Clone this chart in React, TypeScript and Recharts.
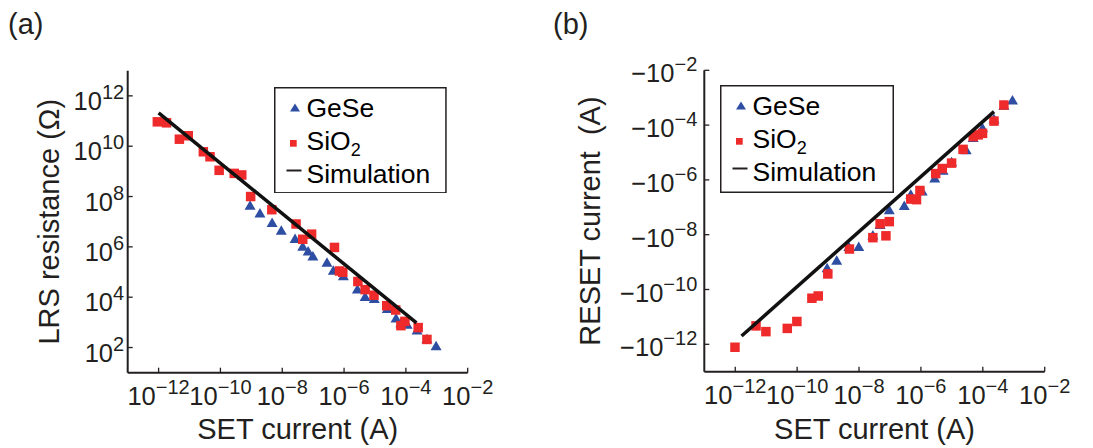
import React from 'react';
import { ScatterChart, Scatter, XAxis, YAxis, Legend } from 'recharts';

const FONT = '"Liberation Sans", Arial, Helvetica, sans-serif';
const INK = '#231f20';
const RED = '#ee2a2b';
const BLUE = '#2e4ea3';

// ---- shared tick values ----
const setCurrentTicks = [1e-12, 1e-10, 1e-8, 1e-6, 1e-4, 1e-2];
const lrsTicks = [1e2, 1e4, 1e6, 1e8, 1e10, 1e12];
const resetTicks = [1e-12, 1e-10, 1e-8, 1e-6, 1e-4, 1e-2];
const setDomain = [1e-13, 1e-2];
const lrsDomain = [1e1, 1e13];
const resetDomain = [1e-13, 1e-2];

const seriesNames = ['GeSe', 'SiO2', 'Simulation'];

// ---- panel (a): LRS resistance vs SET current ----
const geseSetA = [9.1e-10, 1.9e-9, 4.7e-9, 9.3e-9, 2.6e-8, 4.6e-8, 6.9e-8, 9.8e-8, 2.8e-7, 4.5e-7, 9.5e-7, 2.7e-6, 4.8e-6, 9.5e-6, 2.5e-5, 4.8e-5, 6.9e-5, 1.1e-4, 2.3e-4, 4.8e-4, 9.5e-4];
const geseLrsA = [4.2e7, 2.1e7, 8.7e6, 4.3e6, 2.0e6, 1.0e6, 6.5e5, 4.1e5, 2.3e5, 1.1e5, 6.6e4, 2.0e4, 1.0e4, 8.3e3, 3.3e3, 1.4e3, 9.1e2, 7.9e2, 4.7e2, 2.1e2, 1.1e2];
const sio2SetA = [9.1e-13, 1.8e-12, 4.7e-12, 9.1e-12, 2.8e-11, 4.6e-11, 9.1e-11, 2.8e-10, 4.9e-10, 9.5e-10, 4.6e-9, 2.8e-8, 4.6e-8, 8.9e-8, 4.9e-7, 7.1e-7, 9.1e-7, 2.8e-6, 4.8e-6, 9.3e-6, 2.4e-5, 4.7e-5, 9.3e-5, 6.9e-5, 2.5e-4, 4.8e-4];
const sio2LrsA = [9.3e10, 8.5e10, 1.9e10, 2.6e10, 6.0e9, 3.8e9, 1.1e9, 8.3e8, 7.2e8, 1.0e8, 3.0e7, 8.1e6, 2.0e6, 3.2e6, 9.5e5, 1.1e5, 9.8e4, 4.2e4, 2.0e4, 1.2e4, 4.6e3, 3.1e3, 1.1e3, 7.4e2, 6.2e2, 2.1e2];
const simSetA = [1.0e-12, 2.2e-4];
const simLrsA = [2.1e11, 9.5e2];

// ---- panel (b): RESET current (negative) vs SET current ----
const geseSetB = [9.3e-10, 1.9e-9, 4.7e-9, 9.8e-9, 2.8e-8, 4.8e-8, 9.5e-8, 2.9e-7, 4.7e-7, 1.1e-6, 2.8e-6, 5.2e-6, 9.8e-6, 2.9e-5, 4.9e-5, 8.5e-5, 9.8e-5, 2.3e-4, 4.8e-4, 9.1e-4];
const geseResetB = [-5.9e-10, -1.1e-9, -3.5e-9, -3.5e-9, -9.1e-9, -2.2e-8, -7.6e-8, -1.1e-7, -2.8e-7, -3.7e-7, -1.1e-6, -2.1e-6, -4.3e-6, -1.2e-5, -3.3e-5, -4.8e-5, -7.6e-5, -1.6e-4, -5.0e-4, -7.8e-4];
const sio2SetB = [9.8e-13, 4.7e-12, 9.8e-12, 4.8e-11, 9.8e-11, 3.0e-10, 4.8e-10, 9.8e-10, 4.9e-9, 2.8e-8, 4.8e-8, 7.4e-8, 9.5e-8, 4.7e-7, 7.2e-7, 9.3e-7, 3.0e-6, 4.9e-6, 9.8e-6, 2.3e-5, 4.9e-5, 7.1e-5, 9.8e-5, 2.3e-4, 4.8e-4];
const sio2ResetB = [-7.8e-13, -4.7e-12, -2.9e-12, -3.8e-12, -6.8e-12, -4.8e-11, -5.8e-11, -3.7e-10, -3.0e-9, -7.8e-9, -2.5e-8, -9.1e-9, -3.0e-8, -2.0e-7, -1.9e-7, -4.1e-7, -1.7e-6, -2.6e-6, -4.1e-6, -1.3e-5, -3.8e-5, -4.4e-5, -5.0e-5, -1.4e-4, -5.4e-4];
const simSetB = [1.6e-12, 2.3e-4];
const simResetB = [-2.0e-12, -3.1e-4];

// tables for the library (RESET current plotted by magnitude on a log axis)
const zip = (xs: number[], ys: number[]) => xs.map((x, i) => ({ x, y: Math.abs(ys[i]) }));
const geseA = zip(geseSetA, geseLrsA);
const sio2A = zip(sio2SetA, sio2LrsA);
const simA = zip(simSetA, simLrsA);
const geseB = zip(geseSetB, geseResetB);
const sio2B = zip(sio2SetB, sio2ResetB);
const simB = zip(simSetB, simResetB);

const BASE = 25.5;
const SUP = 20;
const TICK = 5;

const expText = (v: number) => {
  const e = Math.round(Math.log10(v));
  return e < 0 ? '\u2212' + Math.abs(e) : String(e);
};

const BottomTick = (p: any) => {
  const { x, y, payload } = p;
  return (
    <g>
      <line x1={x} x2={x} y1={y} y2={y - TICK} stroke={INK} strokeWidth={1.3} />
      <text x={x} y={y + 32} textAnchor="middle" fontFamily={FONT} fontSize={BASE} fill={INK}>
        10<tspan dy={-11} fontSize={SUP}>{expText(payload.value)}</tspan>
      </text>
    </g>
  );
};
const TopTick = (p: any) => (
  <line x1={p.x} x2={p.x} y1={p.y} y2={p.y + TICK} stroke={INK} strokeWidth={1.3} />
);
const RightTick = (p: any) => (
  <line x1={p.x} x2={p.x - TICK} y1={p.y} y2={p.y} stroke={INK} strokeWidth={1.3} />
);
const LeftTickA = (p: any) => {
  const { x, y, payload } = p;
  return (
    <g>
      <line x1={x} x2={x + TICK} y1={y} y2={y} stroke={INK} strokeWidth={1.3} />
      <text x={x - 3.5} y={y + 14} textAnchor="end" fontFamily={FONT} fontSize={BASE} fill={INK}>
        10<tspan dy={-11} fontSize={SUP}>{expText(payload.value)}</tspan>
      </text>
    </g>
  );
};
const LeftTickB = (p: any) => {
  const { x, y, payload } = p;
  return (
    <g>
      <line x1={x} x2={x + TICK} y1={y} y2={y} stroke={INK} strokeWidth={1.3} />
      <text x={x - 7} y={y + 12} textAnchor="end" fontFamily={FONT} fontSize={BASE} fill={INK}>
        {'\u221210'}<tspan dy={-11} fontSize={SUP}>{expText(payload.value)}</tspan>
      </text>
    </g>
  );
};

const Square = (p: any) => {
  const s = 9.5;
  return <rect x={p.cx - s / 2} y={p.cy - s / 2} width={s} height={s} fill={RED} />;
};
const Triangle = (p: any) => {
  const w = 11;
  const h = 9.5;
  const { cx, cy } = p;
  return (
    <polygon
      points={`${cx},${cy - h * 0.6} ${cx - w / 2},${cy + h * 0.4} ${cx + w / 2},${cy + h * 0.4}`}
      fill={BLUE}
    />
  );
};
const NoDot = () => <g />;

const LegendBox = ({ w, h }: { w: number; h: number }) => (
  <svg width={w} height={h} style={{ display: 'block' }}>
    <rect x={0.75} y={0.75} width={w - 1.5} height={h - 1.5} fill="#fff" stroke={INK} strokeWidth={1.5} />
    <polygon points="21,16.5 16,24.5 26,24.5" fill={BLUE} />
    <rect x={16} y={53} width={6.7} height={6.7} fill={RED} />
    <line x1={12.5} x2={27.5} y1={83.5} y2={83.5} stroke={INK} strokeWidth={2} />
    <g fontFamily={FONT} fontSize={26.5} fill="#000">
      <text x={32.5} y={29.5}>{seriesNames[0]}</text>
      <text x={32.5} y={62.5}>
        SiO<tspan dy={6} fontSize={18}>2</tspan>
      </text>
      <text x={32.5} y={95.5}>{seriesNames[2]}</text>
    </g>
  </svg>
);

const axisLine = { stroke: INK, strokeWidth: 2 };
const titleStyle = { fill: INK, fontSize: 29, fontFamily: FONT };

export default function App() {
  return (
    <div style={{ position: 'absolute', left: 0, top: 0, width: 1093, height: 448, background: '#fff', overflow: 'hidden' }}>
      <svg width={1093} height={448} style={{ position: 'absolute', left: 0, top: 0 }}>
        <text x={8} y={34} fontFamily={FONT} fontSize={29} fill={INK}>(a)</text>
        <text x={553} y={34} fontFamily={FONT} fontSize={29} fill={INK}>(b)</text>
      </svg>

      <div style={{ position: 'absolute', left: 0, top: 0 }}>
        <ScatterChart width={560} height={448} margin={{ top: 70.7, right: 92.3, bottom: 0, left: 0 }}>
          <XAxis
            type="number" dataKey="x" scale="log" domain={setDomain} ticks={setCurrentTicks}
            allowDataOverflow interval={0} height={75.3} axisLine={axisLine} tickLine={false}
            tickSize={0} tickMargin={0} tick={BottomTick}
            label={{ value: 'SET current (A)', position: 'insideBottom', offset: 9, ...titleStyle }}
          />
          <XAxis
            xAxisId="top" orientation="top" type="number" scale="log" domain={setDomain}
            ticks={setCurrentTicks} allowDataOverflow interval={0} height={0} axisLine={axisLine}
            tickLine={false} tickSize={0} tickMargin={0} tick={TopTick}
          />
          <YAxis
            type="number" dataKey="y" scale="log" domain={lrsDomain} ticks={lrsTicks}
            allowDataOverflow interval={0} width={127.7} axisLine={axisLine} tickLine={false}
            tickSize={0} tickMargin={0} tick={LeftTickA}
            label={{ value: 'LRS resistance (\u03A9)', angle: -90, position: 'insideLeft', offset: 49, style: { textAnchor: 'middle' }, ...titleStyle }}
          />
          <YAxis
            yAxisId="right" orientation="right" type="number" scale="log" domain={lrsDomain}
            ticks={lrsTicks} allowDataOverflow interval={0} width={0} axisLine={axisLine}
            tickLine={false} tickSize={0} tickMargin={0} tick={RightTick}
          />
          <Scatter name={seriesNames[0]} data={geseA} fill={BLUE} shape={Triangle} isAnimationActive={false} />
          <Scatter name={seriesNames[1]} data={sio2A} fill={RED} shape={Square} isAnimationActive={false} />
          <Scatter name={seriesNames[2]} data={simA} fill={INK} line={{ stroke: '#111', strokeWidth: 3.5 }} shape={NoDot} isAnimationActive={false} />
          <Legend
            verticalAlign="middle" layout="horizontal" align="center"
            wrapperStyle={{ left: 274, top: 86.7, width: 172.7, height: 106.6, margin: 0, padding: 0 }}
            content={() => <LegendBox w={172.7} h={106.6} />}
          />
        </ScatterChart>
      </div>

      <div style={{ position: 'absolute', left: 560, top: 0 }}>
        <ScatterChart width={533} height={448} margin={{ top: 70.3, right: 48.3, bottom: 0, left: 0 }}>
          <XAxis
            type="number" dataKey="x" scale="log" domain={setDomain} ticks={setCurrentTicks}
            allowDataOverflow interval={0} height={76.3} axisLine={axisLine} tickLine={false}
            tickSize={0} tickMargin={0} tick={BottomTick}
            label={{ value: 'SET current (A)', position: 'insideBottom', offset: 9, ...titleStyle }}
          />
          <XAxis
            xAxisId="top" orientation="top" type="number" scale="log" domain={setDomain}
            ticks={setCurrentTicks} allowDataOverflow interval={0} height={0} axisLine={axisLine}
            tickLine={false} tickSize={0} tickMargin={0} tick={TopTick}
          />
          <YAxis
            type="number" dataKey="y" scale="log" domain={resetDomain} ticks={resetTicks}
            allowDataOverflow interval={0} width={144.3} axisLine={axisLine} tickLine={false}
            tickSize={0} tickMargin={0} tick={LeftTickB}
            label={{ value: 'RESET current\u00a0 (A)', angle: -90, position: 'insideLeft', offset: 30, style: { textAnchor: 'middle' }, ...titleStyle }}
          />
          <YAxis
            yAxisId="right" orientation="right" type="number" scale="log" domain={resetDomain}
            ticks={resetTicks} allowDataOverflow interval={0} width={0} axisLine={axisLine}
            tickLine={false} tickSize={0} tickMargin={0} tick={RightTick}
          />
          <Scatter name={seriesNames[0]} data={geseB} fill={BLUE} shape={Triangle} isAnimationActive={false} />
          <Scatter name={seriesNames[1]} data={sio2B} fill={RED} shape={Square} isAnimationActive={false} />
          <Scatter name={seriesNames[2]} data={simB} fill={INK} line={{ stroke: '#111', strokeWidth: 3.5 }} shape={NoDot} isAnimationActive={false} />
          <Legend
            verticalAlign="middle" layout="horizontal" align="center"
            wrapperStyle={{ left: 160, top: 85, width: 174, height: 108, margin: 0, padding: 0 }}
            content={() => <LegendBox w={174} h={108} />}
          />
        </ScatterChart>
      </div>
    </div>
  );
}
